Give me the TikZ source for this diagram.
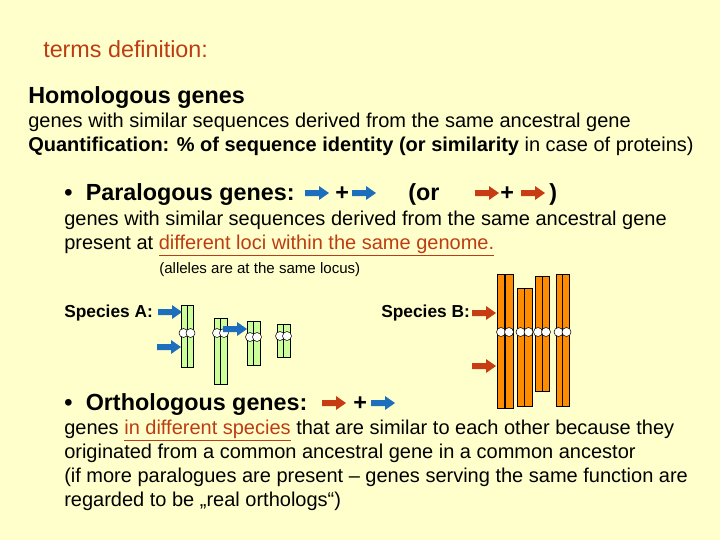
\documentclass[tikz,border=0pt]{standalone}
\usepackage{fontspec}
\setmainfont{Liberation Sans}
\begin{document}
\begin{tikzpicture}[x=0.75pt,y=-0.75pt,
  txt/.style={anchor=base west,inner sep=0pt,font=\fontsize{15}{18}\selectfont},
  big/.style={txt,font=\bfseries\fontsize{17.5}{18}\selectfont},
  chrA/.style={draw=black,fill=chA,line width=0.6pt},
  chrB/.style={draw=black,fill=orange!90!yellow,line width=0.6pt},
  cen/.style={circle,draw=black,fill=white,inner sep=0pt,minimum size=9pt*0.75,line width=0.4pt}]
\definecolor{bg}{RGB}{255,255,204}
\definecolor{chA}{RGB}{204,255,153}
\definecolor{ablue}{RGB}{30,110,190}
\definecolor{ared}{RGB}{200,60,20}
\definecolor{ttl}{RGB}{190,60,20}
\fill[bg] (0,0) rectangle (720,540);
\useasboundingbox (0,0) rectangle (720,540);
\newcommand{\garrow}[3]{\fill[#3] (#1,#2-3) -- (#1+14,#2-3) -- (#1+14,#2-7) -- (#1+24,#2) -- (#1+14,#2+7) -- (#1+14,#2+3) -- (#1,#2+3) -- cycle;}
\node[txt,text=ttl,font=\fontsize{17.5}{18}\selectfont] (t0) at (43,57) {terms definition:};
\node[big] (t1) at (28,103) {Homologous genes};
\node[txt] (t2) at (28,127) {genes with similar sequences derived from the same ancestral gene};
\node[txt] (t3) at (28,151) {\textbf{Quantification: \% of sequence identity (or similarity} in case of proteins)};
\node[big] (t4) at (64,200) {•\hspace{10pt}Paralogous genes:};
\node[big] (p1) at (335,200) {+};
\node[big] (p2) at (408,200) {(or};
\node[big] (p3) at (500,200) {+};
\node[big] (p4) at (549,200) {)};
\node[txt] (t5) at (64,225) {genes with similar sequences derived from the same ancestral gene};
\node[txt] (t6) at (64,249) {present at \textcolor{ttl}{\underline{different loci within the same genome.}}};
\node[txt,font=\fontsize{11.3}{12}\selectfont] (t7) at (159,273) {(alleles are at the same locus)};
\node[txt,font=\bfseries\fontsize{13}{14}\selectfont] (sa) at (64,317) {Species A:};
\node[txt,font=\bfseries\fontsize{13}{14}\selectfont] (sb) at (381,317) {Species B:};
\node[big] (t8) at (64,410) {•\hspace{10pt}Orthologous genes:};
\node[big] (p5) at (353,410) {+};
\node[txt] (t9) at (64,434) {genes \textcolor{ttl}{\underline{in different species}} that are similar to each other because they};
\node[txt] (t10) at (64,458) {originated from a common ancestral gene in a common ancestor};
\node[txt] (t11) at (64,482) {(if more paralogues are present -- genes serving the same function are};
\node[txt] (t12) at (64,506) {regarded to be „real orthologs“)};
% species A chromosomes
\foreach \xa/\xb/\ya/\yb/\yc in {181/193/305/367/333, 214/227/318/384/333, 247/260/321/365/337, 277/290/324/357/336}{
  \draw[chrA] (\xa,\ya) rectangle (\xb,\yb);
  \draw[line width=0.6pt] ({(\xa+\xb)/2},\ya) -- ({(\xa+\xb)/2},\yb);
  \node[cen] at ({(\xa+\xb)/2-3.5},\yc) {};
  \node[cen] at ({(\xa+\xb)/2+3.5},\yc) {};
}
% species B chromosomes
\foreach \xa/\xb/\ya/\yb/\w in {497/513/274/408/1.5, 517/532/288/406/0.6, 535/549/276/391/0.6, 556/569/274/406/0.6}{
  \draw[chrB] (\xa,\ya) rectangle (\xb,\yb);
  \draw[line width=\w pt] ({(\xa+\xb)/2},\ya) -- ({(\xa+\xb)/2},\yb);
  \node[cen] at ({(\xa+\xb)/2-4},332) {};
  \node[cen] at ({(\xa+\xb)/2+4},332) {};
}
\garrow{158}{312}{ablue}
\garrow{157}{347}{ablue}
\garrow{223}{329}{ablue}
\garrow{472}{313}{ared}
\garrow{472}{366}{ared}
\garrow{305}{193}{ablue}
\garrow{352}{193}{ablue}
\garrow{475}{193}{ared}
\garrow{521}{193}{ared}
\garrow{322}{403}{ared}
\garrow{371}{403}{ablue}
\end{tikzpicture}
\end{document}
